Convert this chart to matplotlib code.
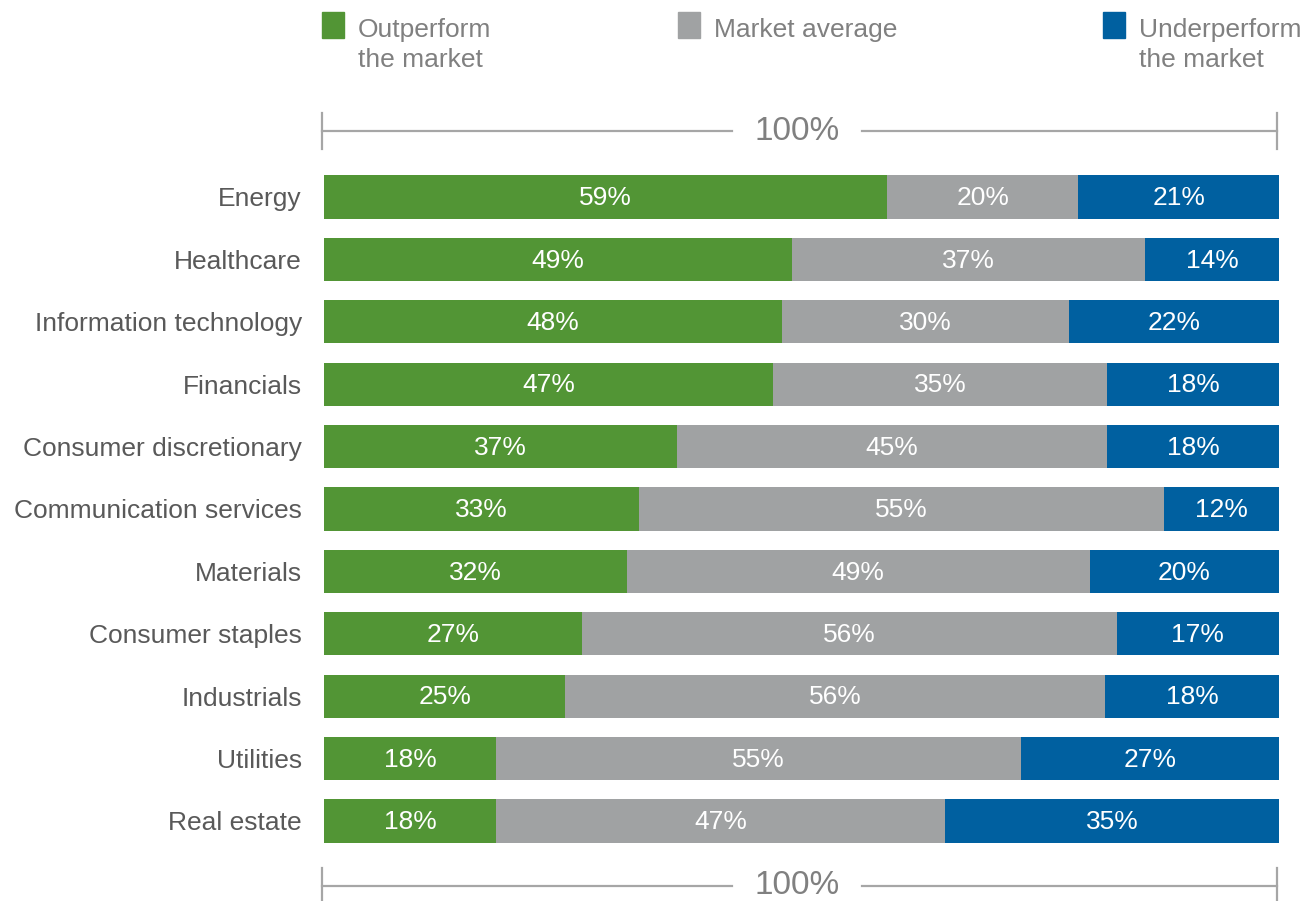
import matplotlib
matplotlib.use("Agg")
import matplotlib.pyplot as plt
import matplotlib.transforms as mtransforms
from matplotlib.patches import Rectangle
import numpy as np

plt.rcParams['font.family'] = ['Liberation Sans', 'DejaVu Sans']

# === DATOS ===
categorias = [
    "Energy", "Healthcare", "Information technology", "Financials",
    "Consumer discretionary", "Communication services", "Materials",
    "Consumer staples", "Industrials", "Utilities", "Real estate",
]
outperform = [59, 49, 48, 47, 37, 33, 32, 27, 25, 18, 18]
promedio = [20, 37, 30, 35, 45, 55, 49, 56, 56, 55, 47]
underperform = [21, 14, 22, 18, 18, 12, 20, 17, 18, 27, 35]

series_nombres = ["Outperform\nthe market", "Market average", "Underperform\nthe market"]
colores = ["#529535", "#A0A2A3", "#0060A0"]

W, H = 1311, 901
fig = plt.figure(figsize=(W / 100, H / 100), dpi=100)

# ejes colocados en pixeles de la referencia
x0, x1 = 324, 1279
paso = 62.4
y_top = 197 - paso / 2
y_bot = 821 + paso / 2
ax = fig.add_axes([x0 / W, 1 - y_bot / H, (x1 - x0) / W, (y_bot - y_top) / H])

datos = np.array([outperform, promedio, underperform], dtype=float)
totales = datos.sum(axis=0)
anchos = datos / totales * 100  # algunas filas suman 99 o 101 por redondeo
y = np.arange(len(categorias))

izquierda = np.zeros(len(categorias))
for i in range(3):
    ax.barh(y, anchos[i], left=izquierda, height=0.69, color=colores[i], edgecolor="none")
    for j in range(len(categorias)):
        ax.text(izquierda[j] + anchos[i][j] / 2, y[j] + 0.02, f"{int(datos[i][j])}%",
                ha="center", va="center", color="white", fontsize=19)
    izquierda += anchos[i]

ax.set_xlim(0, 100)
ax.set_ylim(len(categorias) - 0.5, -0.5)
ax.set_yticks(y)
ax.set_yticklabels(categorias, fontsize=19, color="#595959")
ax.tick_params(axis="y", length=0, pad=16)
ax.set_xticks([])
for s in ax.spines.values():
    s.set_visible(False)

# === CORCHETES 100% ===
trans = mtransforms.blended_transform_factory(ax.transAxes, fig.transFigure)
gris_linea = "#A6A6A6"
for yp in (131, 886):
    yf = 1 - yp / H
    th = 18 / H
    ax.plot([-0.002, 0.427], [yf, yf], color=gris_linea, lw=1.6, transform=trans, clip_on=False)
    ax.plot([0.563, 0.998], [yf, yf], color=gris_linea, lw=1.6, transform=trans, clip_on=False)
    ax.plot([-0.002, -0.002], [yf - th, yf + th], color=gris_linea, lw=1.6, transform=trans, clip_on=False)
    ax.plot([0.998, 0.998], [yf - th, yf + th], color=gris_linea, lw=1.6, transform=trans, clip_on=False)
    fig.text(797 / W, yf, "100%", ha="center", va="center", fontsize=24, color="#808080")

# === LEYENDA ===
leyenda_x = [322, 678, 1103]
for xp, nombre, c in zip(leyenda_x, series_nombres, colores):
    fig.patches.append(Rectangle((xp / W, 1 - 38 / H), 22 / W, 26 / H, color=c,
                                 transform=fig.transFigure, figure=fig))
    fig.text((xp + 36) / W, 1 - 18 / H, nombre, ha="left", va="top", fontsize=19,
             color="#808080", linespacing=1.32)

fig.savefig("out.png", dpi=100)
